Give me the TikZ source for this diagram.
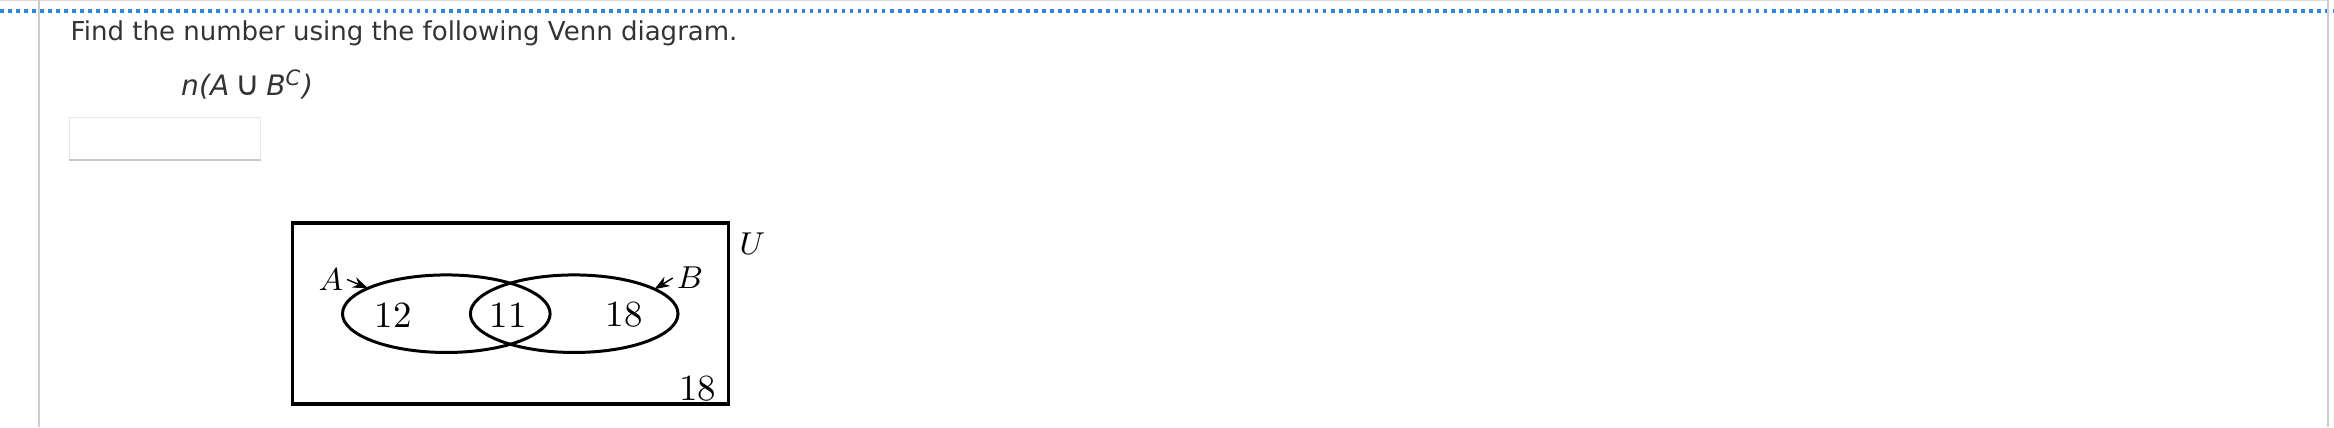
\documentclass[tikz,border=0pt]{standalone}
\usepackage{fontspec}
\newfontfamily\websans{DejaVu Sans}
\usetikzlibrary{shapes.geometric,arrows.meta}
\definecolor{dotblue}{RGB}{51,134,226}
\definecolor{edgegray}{RGB}{204,204,204}
\definecolor{inkgray}{RGB}{51,51,51}

\begin{document}
\begin{tikzpicture}[x=0.01cm,y=-0.01cm,
    webtext/.style={font=\websans\fontsize{7.4}{8.8}\selectfont, text=inkgray, inner sep=0pt, anchor=base west},
    setring/.style={draw, ellipse, line width=0.85pt, minimum width=2.075cm, minimum height=0.775cm, inner sep=0pt, outer sep=0pt},
    count/.style={font=\fontsize{10.5}{12}\selectfont, inner sep=0pt},
    setname/.style={font=\fontsize{9.4}{11}\selectfont, inner sep=1pt},
    pointer/.style={-{Stealth[length=1.5mm,width=1.1mm]}, line width=0.4pt}]
\useasboundingbox (0,0) rectangle (2334,427);
% page frame
\draw[edgegray!70, line width=0.3pt] (0,0.5) -- (2328,0.5);
\draw[dotblue, line width=1pt, dash pattern=on 1pt off 1.28pt] (0,10.8) -- (2334,10.8);
\draw[edgegray, line width=0.57pt] (38.7,0) -- (38.7,427);
\draw[edgegray, line width=0.57pt] (2328,0) -- (2328,427);
% question
\node[webtext] (title) at (70,40.5) {Find the number using the following Venn diagram.};
\node[webtext, font=\websans\fontsize{8}{9.6}\selectfont] (expr) at (180.5,95) {\itshape n(A\hspace{0.22em}{\upshape\scalebox{1.2}{∪}}\hspace{0.22em}B\textsuperscript{C})};
\node[draw=edgegray!50, line width=0.3pt, minimum width=1.905cm, minimum height=0.42cm, inner sep=0pt] (answer) at (164.8,138.5) {};
\draw[edgegray!110, line width=0.57pt] (answer.south west) -- (answer.south east);
% venn diagram
\node[draw, line width=1pt, minimum width=4.356cm, minimum height=1.807cm, inner sep=0pt] (univ) at (510.5,313.65) {};
\node[setring] (setA) at (446.3,313.7) {};
\node[setring] (setB) at (574.2,313.7) {};
\node[setname] (labU) at (752.5,243.5) {$U$};
\node[setname] (labA) at (330.7,279.5) {$A$};
\node[setname] (labB) at (690,278) {$B$};
\draw[pointer] (labA.east) -- (setA.162.7);
\draw[pointer] (labB.west) -- (setB.17);
\node[count] (onlyA) at (393.3,314.8) {12};
\node[count] (both) at (508.3,314.8) {11};
\node[count] (onlyB) at (624.2,314.8) {18};
\node[count] (neither) at (697.5,388.3) {18};
\end{tikzpicture}
\end{document}
